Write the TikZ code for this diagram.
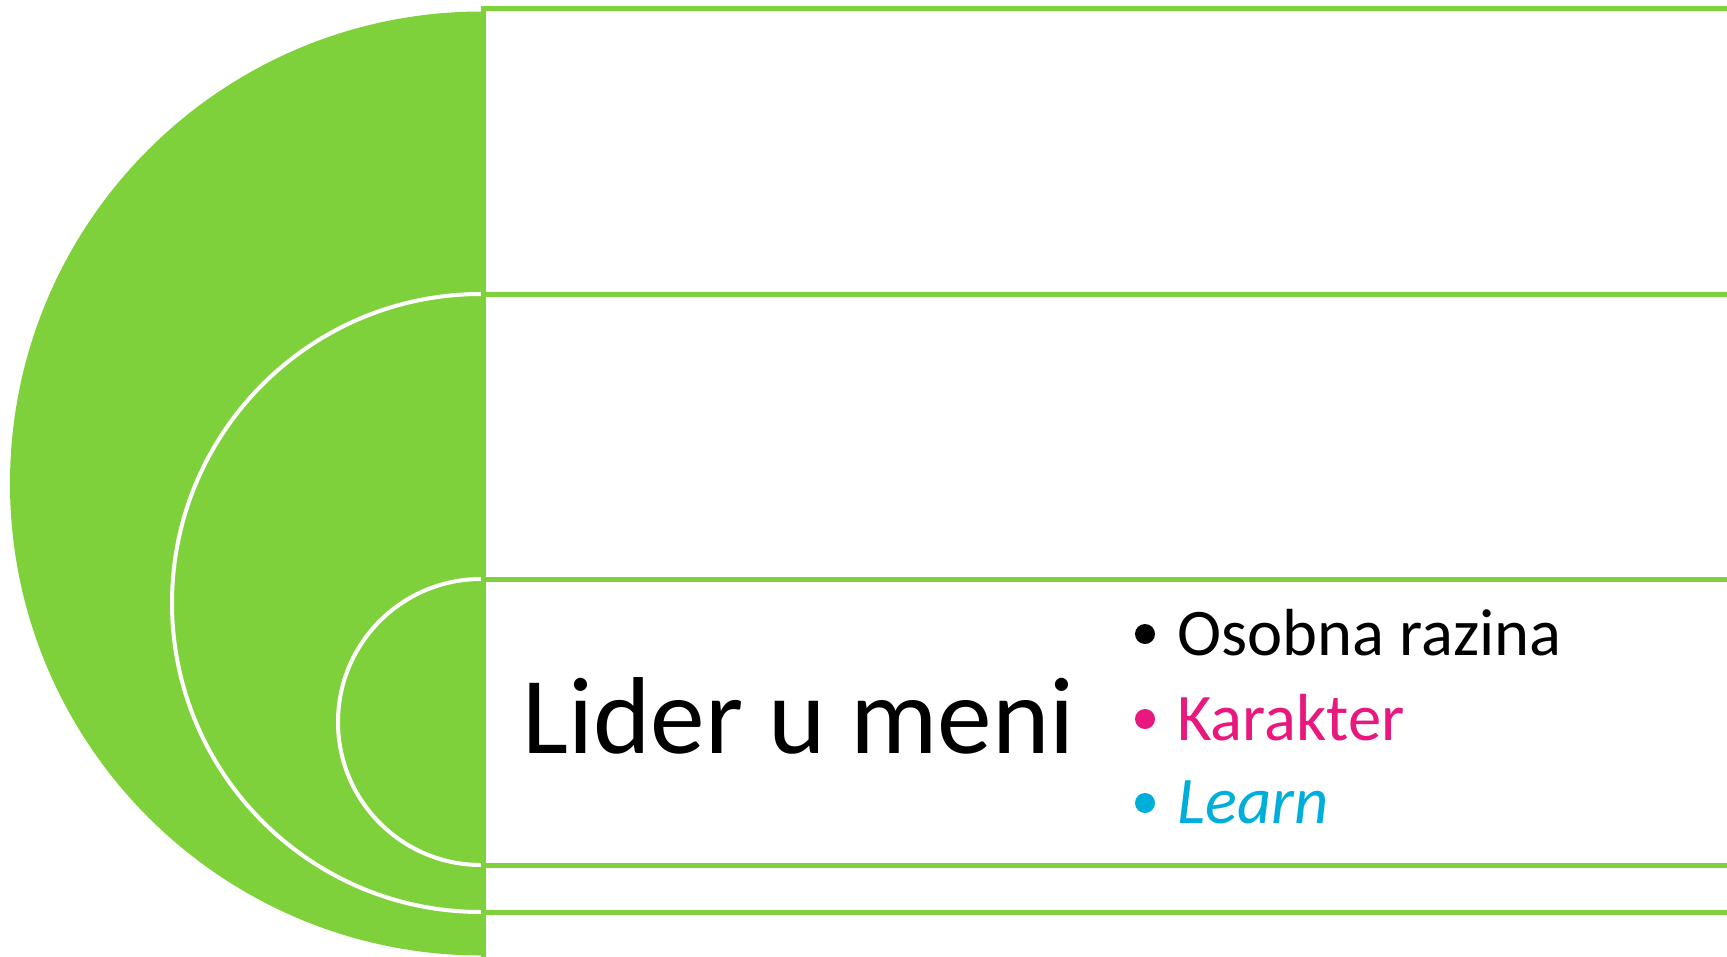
\documentclass[tikz,border=0pt]{standalone}
\usepackage{fontspec}
\setmainfont{Carlito}
\definecolor{lgreen}{HTML}{7FD13B}
\definecolor{kpink}{HTML}{E8187E}
\definecolor{lblue}{HTML}{00AEDB}
\begin{document}
\begin{tikzpicture}[x=0.5pt,y=-0.5pt,
  band/.style={draw=lgreen, line width=2.5pt, fill=white},
  rim/.style={draw=white, line width=2pt},
  bul/.style={circle, inner sep=0pt, minimum size=10pt},
  item/.style={anchor=base west, inner sep=0pt, font=\fontsize{33.3}{40}\selectfont}]
\useasboundingbox (0,0) rectangle (1727,957);
\clip (0,0) rectangle (1727,957);
\fill[white] (0,0) rectangle (1727,957);
% outer band
\path[band] (483,9) rectangle (1800,960);
\fill[lgreen] (482,11.5) arc[start angle=90,end angle=270,radius=236pt] -- cycle;
% middle band
\path[band] (483,294) rectangle (1800,912);
\fill[lgreen] (482,294) arc[start angle=90,end angle=270,radius=154.5pt] -- cycle;
\draw[rim] (481,294) arc[start angle=90,end angle=270,radius=154.5pt];
% inner band
\path[band] (483,579) rectangle (1800,865);
\fill[lgreen] (482,579) arc[start angle=90,end angle=270,radius=71.5pt] -- cycle;
\draw[rim] (481,579) arc[start angle=90,end angle=270,radius=71.5pt];
% left edge
\draw[lgreen, line width=2.5pt] (483,9) -- (483,957);
% texts
\node[anchor=base west, inner sep=0pt, font=\fontsize{54.7}{60}\selectfont] (title) at (522,753) {Lider u meni};
\node[bul, fill=black] (b1) at (1145,634) {};
\node[item] (i1) at (1177,655) {Osobna razina};
\node[bul, fill=kpink] (b2) at (1145,719) {};
\node[item, text=kpink] (i2) at (1177,740) {Karakter};
\node[bul, fill=lblue] (b3) at (1145,803) {};
\node[item, text=lblue, font=\fontsize{33.3}{40}\selectfont\itshape] (i3) at (1177,823) {Learn};
\end{tikzpicture}
\end{document}
